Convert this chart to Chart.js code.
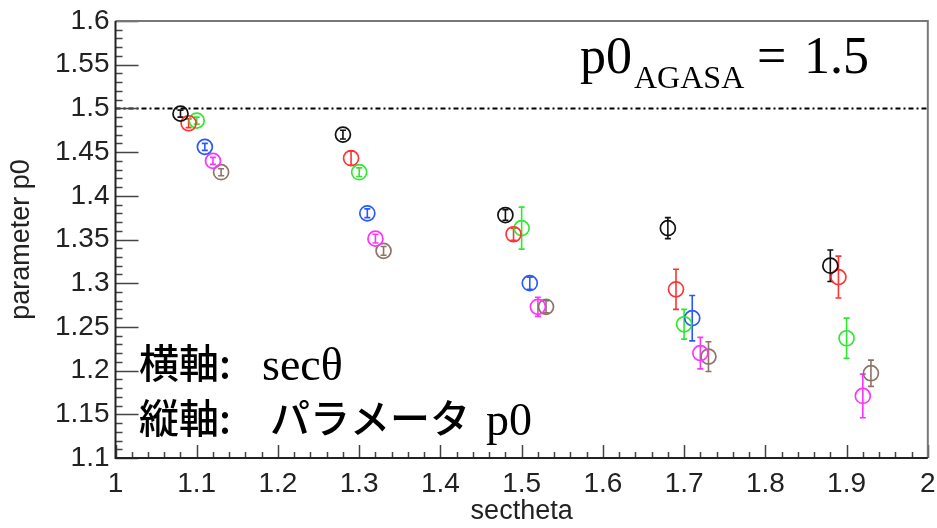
<!DOCTYPE html>
<html>
<head>
<meta charset="utf-8">
<script src="https://cdn.jsdelivr.net/npm/chart.js@4.4.1/dist/chart.umd.min.js"></script>
<style>
html,body{margin:0;padding:0;background:#fff;}
#wrap{width:937px;height:528px;}
</style>
</head>
<body>
<div id="wrap"><canvas id="p0Chart" width="937" height="528"></canvas></div>
<script>
// fitted p0 per sec(theta) bin, one colour per sample (shifted by 0.01 in sec theta)
const blackX=[1.08,1.28,1.48,1.68,1.88];
const blackP0=[1.494,1.470,1.378,1.363,1.320];
const blackErr=[0.004,0.005,0.006,0.012,0.018];

const redX=[1.09,1.29,1.49,1.69,1.89];
const redP0=[1.483,1.443,1.356,1.293,1.307];
const redErr=[0.005,0.008,0.007,0.023,0.024];

const greenX=[1.10,1.30,1.50,1.70,1.90];
const greenP0=[1.486,1.427,1.363,1.253,1.237];
const greenErr=[0.004,0.005,0.024,0.017,0.023];

const blueX=[1.11,1.31,1.51,1.71];
const blueP0=[1.456,1.380,1.300,1.260];
const blueErr=[0.004,0.005,0.007,0.026];

const magentaX=[1.12,1.32,1.52,1.72,1.92];
const magentaP0=[1.440,1.351,1.273,1.220,1.171];
const magentaErr=[0.004,0.005,0.011,0.018,0.025];

const brownX=[1.13,1.33,1.53,1.73,1.93];
const brownP0=[1.427,1.337,1.273,1.216,1.197];
const brownErr=[0.004,0.005,0.007,0.017,0.015];

const agasaP0=1.5;

const sansFont="'Liberation Sans', Arial, sans-serif";
const serifFont="'Liberation Serif', 'DejaVu Serif', serif";
const cjkFont="'Noto Sans CJK JP', sans-serif";

function makeSet(name,xs,ys,errs,color){
    return {
        label:name,
        data:xs.map((x,i)=>({x:x,y:ys[i]})),
        errors:errs,
        borderColor:color,
        backgroundColor:'rgba(0,0,0,0)',
        pointRadius:7.5,
        pointHoverRadius:7.5,
        pointBorderWidth:1.7,
        showLine:false
    };
}

const rootFrame={
    id:'rootFrame',
    beforeDatasetsDraw(chart){
        const ctx=chart.ctx;
        const a=chart.chartArea;
        const y=chart.scales.y;
        // dash-dot reference line
        ctx.save();
        ctx.strokeStyle='#000';
        ctx.lineWidth=2;
        ctx.setLineDash([5,3,2,3]);
        const yy=y.getPixelForValue(agasaP0);
        ctx.beginPath();
        ctx.moveTo(a.left,yy);
        ctx.lineTo(a.right,yy);
        ctx.stroke();
        ctx.restore();
        // error bars with small caps
        chart.data.datasets.forEach((ds,i)=>{
            const meta=chart.getDatasetMeta(i);
            ctx.save();
            ctx.strokeStyle=ds.borderColor;
            ctx.lineWidth=1.6;
            meta.data.forEach((pt,j)=>{
                const v=ds.data[j].y;
                const e=ds.errors[j];
                const top=y.getPixelForValue(v+e);
                const bot=y.getPixelForValue(v-e);
                ctx.beginPath();
                ctx.moveTo(pt.x,top);ctx.lineTo(pt.x,bot);
                ctx.moveTo(pt.x-3,top);ctx.lineTo(pt.x+3,top);
                ctx.moveTo(pt.x-3,bot);ctx.lineTo(pt.x+3,bot);
                ctx.stroke();
            });
            ctx.restore();
        });
    },
    afterDraw(chart){
        const ctx=chart.ctx;
        const a=chart.chartArea;
        const x=chart.scales.x, y=chart.scales.y;
        ctx.save();
        // inward ticks
        ctx.strokeStyle='#444';
        ctx.lineWidth=1.5;
        ctx.beginPath();
        for(let k=110;k<=160;k++){
            const py=Math.round(y.getPixelForValue(k/100))+0.5;
            const len=(k%5===0)?23:7;
            ctx.moveTo(a.left,py);ctx.lineTo(a.left+len,py);
        }
        for(let k=50;k<=100;k++){
            const px=Math.round(x.getPixelForValue(k/50))+0.5;
            const len=(k%5===0)?13:6;
            ctx.moveTo(px,a.bottom);ctx.lineTo(px,a.bottom-len);
        }
        ctx.stroke();
        // frame
        ctx.lineWidth=2;
        ctx.strokeStyle='#777';
        ctx.beginPath();
        ctx.moveTo(a.left,a.top);ctx.lineTo(a.right,a.top);ctx.lineTo(a.right,a.bottom);
        ctx.stroke();
        ctx.strokeStyle='#222';
        ctx.beginPath();
        ctx.moveTo(a.left,a.top);ctx.lineTo(a.left,a.bottom);ctx.lineTo(a.right,a.bottom);
        ctx.stroke();

        // p0_AGASA label
        ctx.fillStyle='#000';
        ctx.textBaseline='alphabetic';
        ctx.font='52px '+serifFont;
        ctx.fillText('p0',580,73);
        ctx.font='32px '+serifFont;
        ctx.fillText('AGASA',634,88);
        ctx.font='52px '+serifFont;
        ctx.fillText('=',757,73);
        ctx.fillText(String(agasaP0),804,73);

        // axis description
        ctx.font='500 40px '+cjkFont;
        ctx.fillText('横軸:',139,378);
        ctx.fillText('縦軸:',139,433);
        ctx.fillText('パラメータ',270,433);
        ctx.font='46px '+serifFont;
        ctx.fillText('secθ',262,380);
        ctx.fillText('p0',486,435);
        ctx.restore();
    }
};

new Chart(document.getElementById('p0Chart'),{
    type:'scatter',
    data:{
        datasets:[
            makeSet('black',blackX,blackP0,blackErr,'#111111'),
            makeSet('red',redX,redP0,redErr,'#ff3333'),
            makeSet('green',greenX,greenP0,greenErr,'#2eea2e'),
            makeSet('blue',blueX,blueP0,blueErr,'#2a58ff'),
            makeSet('magenta',magentaX,magentaP0,magentaErr,'#ff33ff'),
            makeSet('brown',brownX,brownP0,brownErr,'#8c7468')
        ]
    },
    options:{
        responsive:false,
        animation:false,
        devicePixelRatio:1,
        layout:{padding:{top:21,right:6.5,left:0,bottom:0}},
        plugins:{legend:{display:false},tooltip:{enabled:false}},
        scales:{
            x:{
                type:'linear',
                min:1,max:2,
                grid:{display:false,drawTicks:false},
                border:{display:false},
                ticks:{
                    stepSize:0.1,autoSkip:false,maxRotation:0,padding:9,
                    color:'#222',font:{family:sansFont,size:28},
                    callback:v=>String(Math.round(v*10)/10)
                },
                title:{display:true,text:'sectheta',color:'#222',
                    font:{family:sansFont,size:27},padding:{top:0,bottom:0}},
                afterFit(s){s.height=70;s.paddingLeft=0;s.paddingRight=0;}
            },
            y:{
                type:'linear',
                min:1.1,max:1.6,
                grid:{display:false,drawTicks:false},
                border:{display:false},
                ticks:{
                    stepSize:0.05,autoSkip:false,padding:6,
                    color:'#222',font:{family:sansFont,size:28},
                    callback:v=>String(Math.round(v*100)/100)
                },
                title:{display:true,text:'parameter p0',color:'#222',
                    font:{family:sansFont,size:27},padding:{top:5,bottom:0}},
                afterFit(s){s.width=115.5;s.paddingTop=0;s.paddingBottom=0;}
            }
        }
    },
    plugins:[rootFrame]
});
</script>
</body>
</html>
